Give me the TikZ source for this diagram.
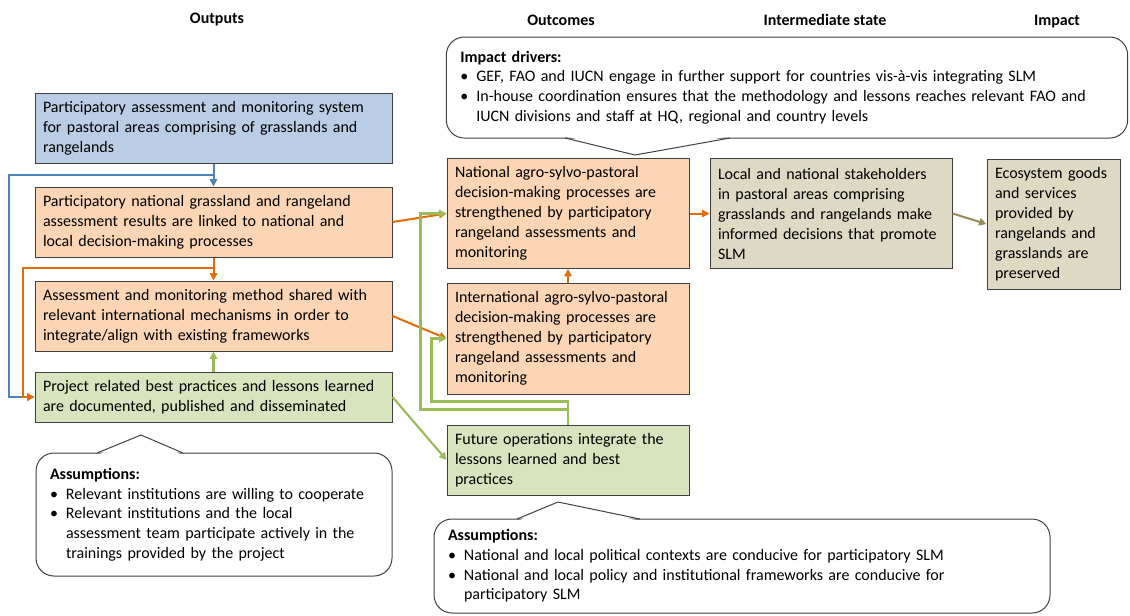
\documentclass[tikz,border=0pt]{standalone}
\usepackage{fontspec}
\setmainfont{Carlito}
\usetikzlibrary{arrows.meta,calc}

\definecolor{boxblue}{HTML}{B9CDE5}
\definecolor{boxorange}{HTML}{FCD5B5}
\definecolor{boxgreen}{HTML}{D7E4BD}
\definecolor{boxtan}{HTML}{DDD9C3}
\definecolor{lineblue}{HTML}{4F81BD}
\definecolor{lineorange}{HTML}{E46C0A}
\definecolor{linegreen}{HTML}{9BBB59}
\definecolor{lineolive}{HTML}{948A54}
\definecolor{rim}{HTML}{404040}
\newcommand{\blt}{\makebox[12pt][l]{\textbullet}}

\begin{document}
\begin{tikzpicture}[x=0.75pt, y=0.75pt, >={Triangle[length=5.5pt,width=5.5pt]},
  head/.style={font=\fontsize{12}{14}\selectfont\bfseries},
  box/.style={draw=rim, line width=0.75pt, align=left, inner xsep=6pt, inner ysep=3pt, font=\fontsize{12}{15}\selectfont},
  outbox/.style={box, text width=255.75pt, minimum height=52.5pt},
  midbox/.style={box, text width=169.5pt},
  callout/.style={draw=rim, line width=0.75pt, rounded corners=13.5pt, align=left, inner xsep=10.5pt, font=\fontsize{12}{14.8}\selectfont},
  bl/.style={draw=lineblue, line width=1.5pt},
  ol/.style={draw=lineorange, line width=1.5pt},
  gl/.style={draw=linegreen, line width=1.6pt},
  kl/.style={draw=lineolive, line width=1.5pt}]

\useasboundingbox (0,0) rectangle (1130,-615);

% Kopfzeile
\node[head] (hOut) at (217,-20) {Outputs};
\node[head] (hOutc) at (561,-20) {Outcomes};
\node[head] (hInt) at (825,-20) {Intermediate state};
\node[head] (hImp) at (1057,-22) {Impact};

% Knoten (Outputs)
\node[outbox, fill=boxblue] (sys) at (213.5,-128) {Participatory assessment and monitoring system\\for pastoral areas comprising of grasslands and\\rangelands};
\node[outbox, fill=boxorange] (res) at (213.5,-222) {Participatory national grassland and rangeland\\assessment results are linked to national and\\local decision-making processes};
\node[outbox, fill=boxorange] (meth) at (213.5,-316) {Assessment and monitoring method shared with\\relevant international mechanisms in order to\\integrate/align with existing frameworks};
\node[outbox, fill=boxgreen, minimum height=37.5pt] (doc) at (213.5,-397) {Project related best practices and lessons learned\\are documented, published and disseminated};

% Knoten (Outcomes, Intermediate state, Impact)
\node[midbox, fill=boxorange, minimum height=82.5pt] (nat) at (568,-213.5) {National agro-sylvo-pastoral\\decision-making processes are\\strengthened by participatory\\rangeland assessments and\\monitoring};
\node[midbox, fill=boxorange, minimum height=83.25pt] (intl) at (568,-338.5) {International agro-sylvo-pastoral\\decision-making processes are\\strengthened by participatory\\rangeland assessments and\\monitoring};
\node[midbox, fill=boxgreen, minimum height=52.5pt] (fut) at (568,-460) {Future operations integrate the\\lessons learned and best\\practices};
\node[midbox, fill=boxtan, minimum height=82.5pt] (stake) at (831,-213.5) {Local and national stakeholders\\in pastoral areas comprising\\grasslands and rangelands make\\informed decisions that promote\\SLM};
\node[box, fill=boxtan, text width=87.75pt, minimum height=97.5pt] (eco) at (1053.5,-224) {Ecosystem goods\\and services\\provided by\\rangelands and\\grasslands are\\preserved};

% Sprechblasen
\node[callout, text width=490pt, minimum height=75.75pt] (drivers) at (787,-87.5) {\textbf{Impact drivers:}\\\blt GEF, FAO and IUCN engage in further support for countries vis-à-vis integrating SLM\\\blt In-house coordination ensures that the methodology and lessons reaches relevant FAO and\\\hspace*{12pt}IUCN divisions and staff at HQ, regional and country levels};
\fill[white] (567,-136.5) -- (635,-154) -- (728,-136.5) -- cycle;
\draw[draw=rim, line width=0.75pt] (565,-138) -- (635,-155) -- (730,-138);

\node[callout, text width=246pt, minimum height=92.25pt] (asmOut) at (214,-514.5) {\textbf{Assumptions:}\\\blt Relevant institutions are willing to cooperate\\\blt Relevant institutions and the local\\\hspace*{12pt}assessment team participate actively in the\\\hspace*{12pt}trainings provided by the project};
\fill[white] (99,-454.5) -- (141,-436) -- (181,-454.5) -- cycle;
\draw[draw=rim, line width=0.75pt] (97,-453) -- (141,-435) -- (183,-453);

\node[callout, text width=441pt, minimum height=70.5pt] (asmOutc) at (742,-566) {\textbf{Assumptions:}\\\blt National and local political contexts are conducive for participatory SLM\\\blt National and local policy and institutional frameworks are conducive for\\\hspace*{12pt}participatory SLM};
\fill[white] (519,-520.5) -- (558,-503) -- (638,-520.5) -- cycle;
\draw[draw=rim, line width=0.75pt] (517,-519) -- (558,-502) -- (640,-519);

% Verbindungen
\draw[bl,->] (sys.south) -- (res.north);
\draw[bl,->] ($(sys.south)+(0,-11)$) -| ($(doc.west)+(-26,0)$) -- (doc.west);
\draw[ol,->] (res.south) -- (meth.north);
\draw[ol,->] ($(res.south)+(0,-10)$) -| ($(doc.west)+(-12,0)$) -- (doc.west);
\draw[gl,->] (doc.north) -- (meth.south);
\draw[ol,->] (res.east) -- (nat.west);
\draw[ol,->] (meth.east) -- (intl.west);
\draw[gl,->] (doc.east) -- (fut.west);
\draw[gl,->] (fut.north) -- ++(0,15) -| ($(nat.west)+(-26,0)$) -- (nat.west);
\draw[gl,->] (fut.north) -- ++(0,23) -| ($(intl.west)+(-15,0)$) -- (intl.west);
\draw[ol,->] (intl.north) -- (nat.south);
\draw[ol,->] (nat.east) -- (stake.west);
\draw[kl,->] (stake.east) -- (eco.west);

\end{tikzpicture}
\end{document}
